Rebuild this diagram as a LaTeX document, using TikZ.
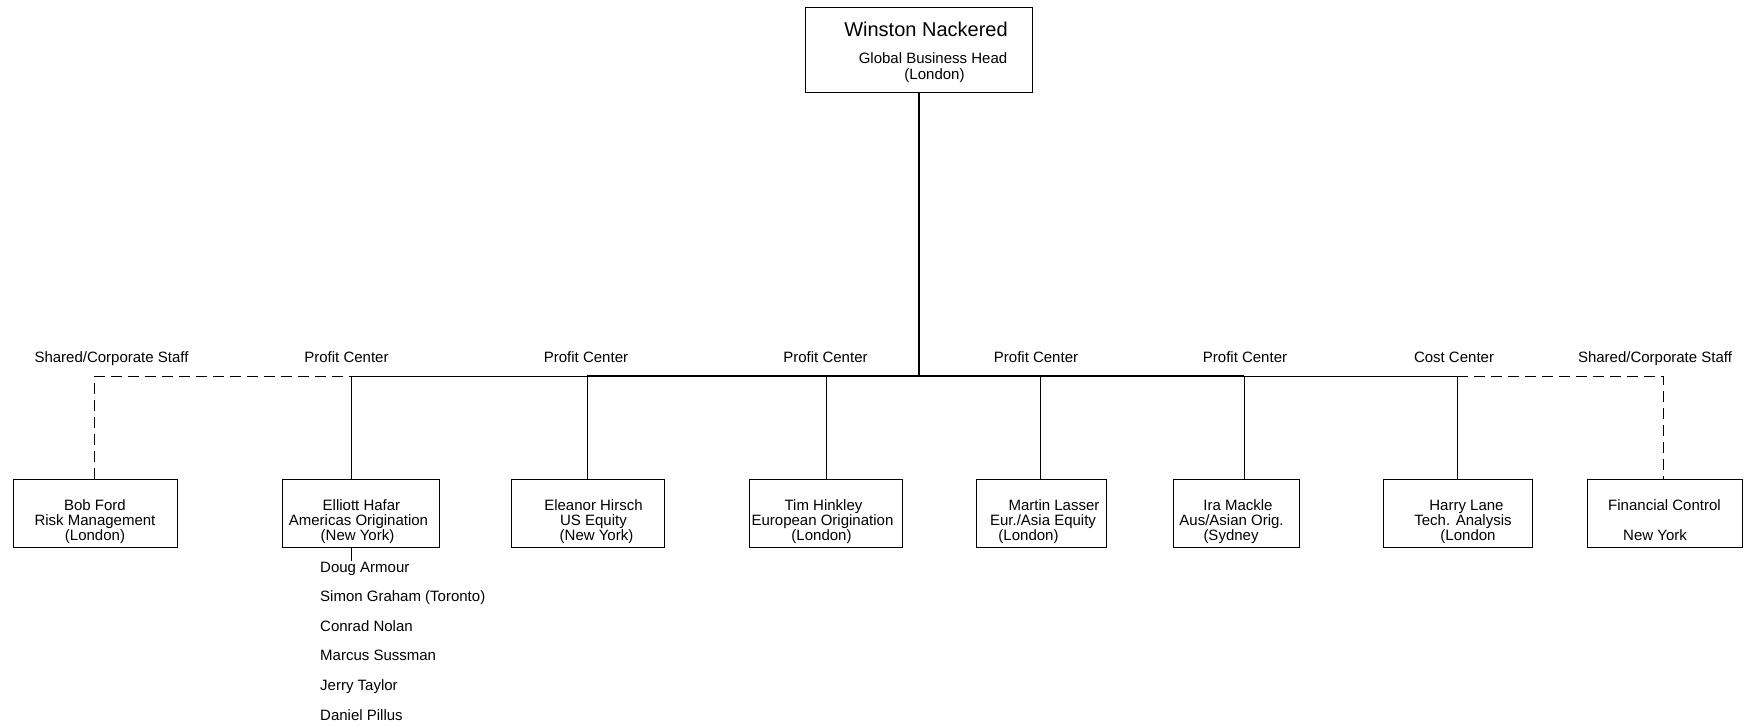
\documentclass[tikz,border=0pt]{standalone}
\usepackage{fontspec}
\setmainfont{Liberation Sans}
\usepackage{tikz}
\usetikzlibrary{calc}
\usetikzlibrary{positioning}
\tikzset{desk/.style={rectangle,draw=black,line width=1pt,align=center,inner sep=0pt,minimum height=68pt}}
\tikzset{centre/.style={anchor=base,inner sep=0pt}}
\tikzset{member/.style={anchor=base west,inner sep=0pt}}
\tikzset{bus/.style={line width=1pt}}
\tikzset{staff/.style={line width=1pt,dash pattern=on 11pt off 6pt}}
\newcommand{\nudge}[1]{\hspace*{#1pt}}
\newcommand{\tall}[1]{\rule{0pt}{#1pt}}

\begin{document}
\begin{tikzpicture}[x=1pt,y=-1pt,font=\fontsize{15}{15}\selectfont]
\useasboundingbox (0,0) rectangle (1754,726);
\node[desk,minimum width=227pt,minimum height=85pt] (head) at (918.5,49.5)
  {\tall{21}\nudge{15}{\fontsize{20}{20}\selectfont Winston Nackered}\\[12pt]\nudge{29}Global Business Head\\[1pt]\nudge{32}(London)};
\node[desk,minimum width=164pt] (ford) at (95,513) {\tall{29}Bob Ford\\Risk Management\\(London)};
\node[desk,minimum width=157pt] (hafar) at (360.5,513) {\tall{29}\nudge{2}Elliott Hafar\\\nudge{-4}Americas Origination\\\nudge{-6}(New York)};
\node[desk,minimum width=153pt] (hirsch) at (587.5,513) {\tall{29}\nudge{12}Eleanor Hirsch\\\nudge{12}US Equity\\\nudge{18}(New York)};
\node[desk,minimum width=153pt] (hinkley) at (825.5,513) {\tall{29}\nudge{-4}Tim Hinkley\\\nudge{-6}European Origination\\\nudge{-8}(London)};
\node[desk,minimum width=130pt] (lasser) at (1041,513) {\tall{29}\nudge{26}Martin Lasser\\\nudge{4}Eur./Asia Equity\\\nudge{-25}(London)};
\node[desk,minimum width=126pt] (mackle) at (1236,513) {\tall{29}\nudge{4}Ira Mackle\\\nudge{-9}Aus/Asian Orig.\\\nudge{-10}(Sydney};
\node[desk,minimum width=149pt] (lane) at (1457.5,513) {\tall{29}\nudge{18}Harry Lane\\\nudge{11}Tech. Analysis\\\nudge{21}(London};
\node[desk,minimum width=155pt] (control) at (1664.5,513) {\tall{26}Financial Control\\[15pt]\nudge{-19}New York};
% centre labels over the bus
\foreach \x/\t [count=\i] in {111.5/{Shared/Corporate Staff},346.5/Profit Center,586/Profit Center,825.5/Profit Center,1036/Profit Center,1245/Profit Center,1454/Cost Center,1655/{Shared/Corporate Staff}}
  \node[centre] (c\i) at (\x,362) {\t};
\foreach \t [count=\i from 0] in {Doug Armour,Simon Graham (Toronto),Conrad Nolan,Marcus Sussman,Jerry Taylor,Daniel Pillus}
  \node[member] (m\i) at (320,572+29.6*\i) {\t};
\foreach \x [count=\i] in {94,351,587,826,1040,1244,1457,1663}
  \coordinate (b\i) at (\x,376);
\coordinate (hub) at (918.5,376);
\draw[bus] (b2) -- (b7);
\draw[bus,line width=2pt] (b3) -- (b6);
\draw[bus,line width=2pt] (head) -- (hub);
\foreach \b/\n in {2/hafar,3/hirsch,4/hinkley,5/lasser,6/mackle,7/lane}
  \draw[bus] (b\b) -- (b\b |- \n.north);
\draw[staff] (ford.north -| b1) -- (b1) -- (b2);
\draw[staff] (b7) -- (b8) -- (control.north -| b8);
\draw[bus] (hafar.south -| b2) -- (m0.north -| b2);
\end{tikzpicture}
\end{document}
